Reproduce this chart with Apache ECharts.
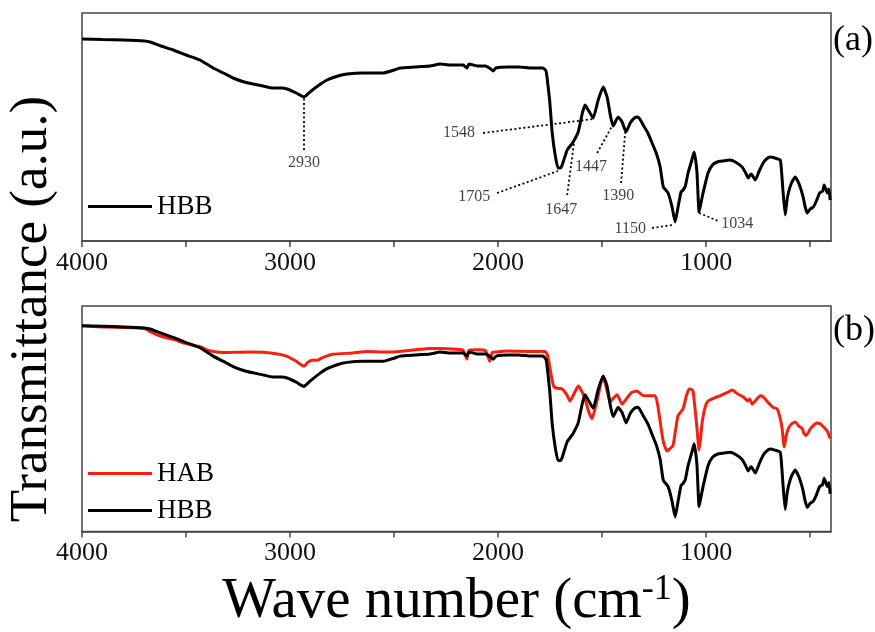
<!DOCTYPE html>
<html>
<head>
<meta charset="utf-8">
<script src="https://cdn.jsdelivr.net/npm/echarts@6.0.0/dist/echarts.min.js"></script>
<style>
  html, body { margin: 0; padding: 0; background: #fff; }
  #chart { width: 875px; height: 632px; }
</style>
</head>
<body>
<div id="chart"></div>
<script>
// espectro HBB (panel a y b), transmitancia en unidades arbitrarias
const waveHBB = [4000, 3900, 3800, 3700, 3673, 3620, 3562, 3500, 3433, 3370, 3320, 3274, 3220, 3178, 3130, 3082, 3040, 3014, 2970, 2933,
  2915, 2904, 2860, 2822, 2770, 2726, 2650, 2553, 2500, 2471, 2400, 2327, 2279, 2230, 2168, 2150, 2140, 2100, 2060, 2035,
  2024, 2010, 1950, 1900, 1840, 1784, 1770, 1765, 1752, 1740, 1725, 1712, 1700, 1692, 1668, 1650, 1639, 1615, 1595, 1582,
  1567, 1543, 1519, 1495, 1476, 1460, 1447, 1423, 1404, 1385, 1365, 1345, 1327, 1303, 1280, 1260, 1240, 1221, 1206, 1183,
  1165, 1149, 1135, 1121, 1111, 1100, 1087, 1070, 1058, 1050, 1044, 1034, 1025, 1015, 991, 970, 947, 920, 885, 860,
  827, 810, 798, 785, 779, 764, 745, 726, 710, 692, 670, 644, 636, 630, 620, 612, 605, 590, 572, 560,
  548, 534, 524, 514, 500, 485, 470, 455, 440, 433, 425, 418, 410, 404];
const tHBB = [202, 201.5, 201, 200, 199, 195, 191, 186, 181, 173, 168, 163, 159, 157, 155, 153, 153, 152, 148, 144,
  147, 149, 156, 161, 165, 167, 168, 168, 171, 173, 174, 175, 177, 176, 176, 173, 177, 175, 175, 172,
  170, 173, 174, 174, 173, 173, 170, 164, 140, 108, 85, 73, 73, 76, 91, 96, 99, 109, 128, 136,
  131, 123, 141, 154, 144, 125, 115, 124, 119, 109, 118, 123, 124, 116, 108, 98, 88, 74, 54, 48,
  35, 19, 34, 49, 51, 55, 68, 80, 89, 80, 68, 29, 38, 48, 68, 76, 79, 80, 81, 79,
  74, 68, 63, 67, 66, 61, 70, 78, 82, 84, 83, 81, 65, 48, 26, 40, 48, 58, 64, 60,
  54, 44, 34, 28, 32, 34, 40, 48, 50, 56, 52, 48, 52, 41];

// espectro HAB (panel b)
const waveHAB = [4000, 3900, 3800, 3700, 3673, 3620, 3562, 3500, 3433, 3400, 3370, 3320, 3274, 3200, 3130, 3060, 3014, 2970, 2933, 2915,
  2894, 2870, 2841, 2793, 2700, 2630, 2550, 2471, 2400, 2327, 2279, 2200, 2168, 2150, 2140, 2100, 2060, 2040, 2030, 2024,
  1950, 1846, 1774, 1760, 1750, 1740, 1731, 1710, 1692, 1670, 1654, 1635, 1615, 1600, 1582, 1565, 1548, 1535, 1519, 1505,
  1495, 1480, 1462, 1445, 1428, 1404, 1380, 1360, 1332, 1310, 1293, 1245, 1232, 1221, 1206, 1188, 1170, 1159, 1145, 1135,
  1111, 1095, 1082, 1070, 1063, 1052, 1044, 1034, 1025, 1019, 1005, 991, 960, 933, 900, 875, 850, 822, 800, 790,
  779, 760, 740, 726, 700, 680, 659, 645, 635, 625, 615, 605, 590, 572, 555, 538, 530, 519, 500, 485,
  470, 452, 440, 428, 415, 404];
const tHAB = [202, 201, 200.5, 199.5, 196.5, 192, 189, 185, 182, 179, 177.5, 176.5, 176.6, 177, 176.6, 175, 172.8, 168, 163.3, 167,
  169, 169, 171.8, 174.7, 176, 177.5, 177, 177.5, 179, 180.4, 180.4, 179.5, 178.5, 170, 178.5, 179, 178, 168, 176, 176.6,
  178, 177.5, 177.5, 172, 160.5, 150, 143.4, 142, 141.5, 136, 130, 137, 144.3, 140, 132, 120, 113, 122, 135, 148,
  153, 143, 129, 133, 136, 127, 133, 138, 139.6, 136, 135, 135, 125, 110, 91, 82, 85, 87.5, 105, 116,
  122.5, 135, 141.5, 141, 139.6, 120, 103.6, 82.7, 98, 110, 124, 130, 133, 135, 138, 140.5, 137, 134, 130, 132,
  127, 131, 135, 134, 128, 124, 122.5, 114, 103.6, 86, 97, 103.6, 108, 110, 106, 103.6, 99, 97, 103, 106.4,
  109, 108.3, 106, 103.6, 100, 94];

// anotaciones del panel (a)
const annTexts = ['2930', '1548', '1705', '1647', '1447', '1390', '1150', '1034'];
const annFrom = [[2933, 91], [2072, 108], [2005, 48], [1668, 46], [1524, 88], [1409, 58], [1260, 13], [1034, 28]];
const annTo = [[2933, 144], [1543, 122], [1712, 70], [1635, 99], [1452, 115], [1389, 109], [1163, 16], [942, 20]];
const annPos = [[2933, 78], [2188, 108], [2115, 44], [1697, 31], [1553, 74], [1423, 45], [1365, 12], [851, 17]];

const tickLabels = [1000, 2000, 3000, 4000];
const tickMarks = [500, 1000, 1500, 2000, 2500, 3000, 3500, 4000];

const serif = '"Liberation Serif", "Times New Roman", serif';

const toPairs = (xs, ys) => xs.map((x, i) => [x, ys[i]]);

function ejeX(grid) {
    return {
        type: 'value', gridIndex: grid, inverse: true, min: 400, max: 4000,
        axisLine: { show: true, lineStyle: { color: '#444', width: 1.5 } },
        axisTick: { show: true, customValues: tickMarks, length: 6, lineStyle: { color: '#444', width: 1.5 } },
        axisLabel: {
            customValues: tickLabels, formatter: v => String(v),
            fontFamily: serif, fontSize: 26, color: '#111', margin: 9
        },
        splitLine: { show: false }
    };
}

function ejeY(grid, min, max) {
    return {
        type: 'value', gridIndex: grid, min: min, max: max,
        axisLine: { show: false }, axisTick: { show: false },
        axisLabel: { show: false }, splitLine: { show: false }
    };
}

const chart = echarts.init(document.getElementById('chart'), null, { renderer: 'canvas' });

const ejeB = ejeX(1);
ejeB.name = '{a|Wave number (cm}{s|-1}{a|)}';
ejeB.nameLocation = 'middle';
ejeB.nameGap = 40;
ejeB.nameTextStyle = {
    rich: {
        a: { fontFamily: serif, fontSize: 57, color: '#000', lineHeight: 62 },
        s: { fontFamily: serif, fontSize: 36, color: '#000', verticalAlign: 'top', lineHeight: 34 }
    }
};

chart.setOption({
    animation: false,
    backgroundColor: '#fff',
    grid: [
        { left: 82, top: 13, width: 749, height: 228, show: true, borderColor: '#444', borderWidth: 1.5 },
        { left: 82, top: 306, width: 749, height: 228, show: true, borderColor: '#444', borderWidth: 1.5 }
    ],
    xAxis: [ejeX(0), ejeB],
    yAxis: [ejeY(0, 0, 228), ejeY(1, 5, 221)],
    legend: [
        {
            data: ['HBB'], left: 88, top: 192, orient: 'vertical', padding: 0,
            icon: 'rect', itemWidth: 64, itemHeight: 3, itemGap: 8, selectedMode: false,
            textStyle: { fontFamily: serif, fontSize: 27, color: '#000', lineHeight: 29 }
        },
        {
            data: ['HAB', 'HBB'], left: 88, top: 459, orient: 'vertical', padding: 0,
            icon: 'rect', itemWidth: 64, itemHeight: 3, itemGap: 8, selectedMode: false,
            textStyle: { fontFamily: serif, fontSize: 27, color: '#000', lineHeight: 29 }
        }
    ],
    graphic: [
        {
            type: 'text', x: 32, y: 309, rotation: Math.PI / 2,
            style: { text: 'Transmittance (a.u.)', font: '53px ' + serif, fill: '#000', textAlign: 'center', textVerticalAlign: 'middle' }
        },
        {
            type: 'text', x: 833, y: 41,
            style: { text: '(a)', font: '36px ' + serif, fill: '#000', textAlign: 'left', textVerticalAlign: 'middle' }
        },
        {
            type: 'text', x: 833, y: 331,
            style: { text: '(b)', font: '36px ' + serif, fill: '#000', textAlign: 'left', textVerticalAlign: 'middle' }
        }
    ],
    series: [
        {
            name: 'HBB', type: 'line', xAxisIndex: 0, yAxisIndex: 0,
            data: toPairs(waveHBB, tHBB), showSymbol: false, smooth: 0.15,
            lineStyle: { color: '#000', width: 3 }, itemStyle: { color: '#000' }
        },
        {
            name: 'ann', type: 'lines', coordinateSystem: 'cartesian2d', xAxisIndex: 0, yAxisIndex: 0,
            data: annFrom.map((p, i) => ({ coords: [p, annTo[i]] })),
            lineStyle: { color: '#000', width: 1.8, type: [2, 2.5], opacity: 1 }
        },
        {
            name: 'annText', type: 'scatter', xAxisIndex: 0, yAxisIndex: 0, symbolSize: 0,
            data: annPos.map((p, i) => [p[0], p[1], annTexts[i]]),
            label: {
                show: true, position: 'inside', formatter: p => p.value[2],
                fontFamily: serif, fontSize: 16, color: '#111'
            }
        },
        {
            name: 'HAB', type: 'line', xAxisIndex: 1, yAxisIndex: 1,
            data: toPairs(waveHAB, tHAB), showSymbol: false, smooth: 0.15,
            lineStyle: { color: '#f5200f', width: 3 }, itemStyle: { color: '#f5200f' }
        },
        {
            name: 'HBB', type: 'line', xAxisIndex: 1, yAxisIndex: 1,
            data: toPairs(waveHBB, tHBB), showSymbol: false, smooth: 0.15,
            lineStyle: { color: '#000', width: 3 }, itemStyle: { color: '#000' }
        }
    ]
});
</script>
</body>
</html>
